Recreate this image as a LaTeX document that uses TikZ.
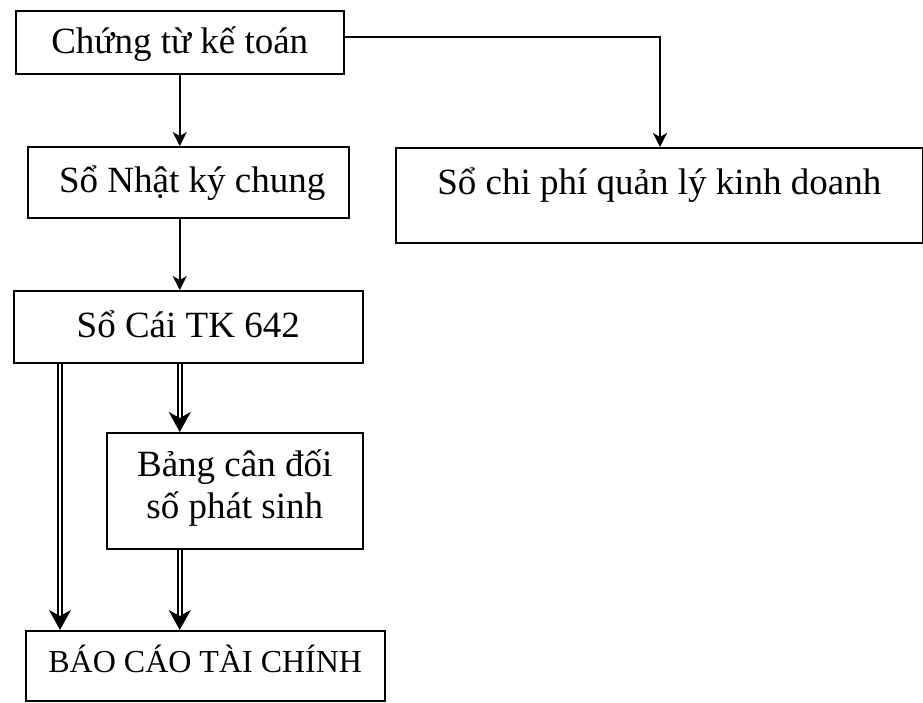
\documentclass[tikz,border=0pt]{standalone}
\usepackage{fontspec}
\setmainfont{Liberation Serif}
\usetikzlibrary{arrows.meta}
\begin{document}
\begin{tikzpicture}[x=1pt,y=-1pt,
  box/.style={draw,line width=1.5pt,rectangle,inner sep=0pt,anchor=north west,font=\fontsize{37}{42}\selectfont},
  arr/.style={line width=1.5pt,-{Stealth[length=14pt,width=14pt,inset=4pt]}},
  dbl/.style={line width=1.5pt,double,double distance=2.5pt,-{Stealth[length=20pt,width=22pt,inset=6pt]}}]
\useasboundingbox (0,0) rectangle (923,702);
\node[box,minimum width=328pt,text height=43pt,text depth=20pt] (ct) at (15,10) {Chứng từ kế toán};
\node[box,minimum width=321pt,text height=46pt,text depth=25pt] (nk) at (27,146) {\hspace{8pt}Sổ Nhật ký chung};
\node[box,minimum width=527pt,text height=47pt,text depth=48pt] (cp) at (395,147) {Sổ chi phí quản lý kinh doanh};
\node[box,minimum width=349pt,text height=47pt,text depth=25pt] (sc) at (13,290) {Sổ Cái TK 642};
\node[box,minimum width=256pt,text height=86pt,text depth=30pt,align=center] (bd) at (106,432) {Bảng cân đối\\số phát sinh};
\node[box,minimum width=359pt,text height=42pt,text depth=28pt,font=\fontsize{32}{36}\selectfont] (bc) at (25,630) {BÁO CÁO TÀI CHÍNH};
\coordinate (turn) at (660,37);
\draw[arr] (ct.east |- turn) -- (turn) -- (turn |- cp.north);
\draw[arr] (ct.south) -- (ct.south |- nk.north);
\draw[arr] (nk.south -| ct.south) -- (ct.south |- sc.north);
\draw[dbl] (60,0 |- sc.south) -- (60,0 |- bc.north);
\draw[dbl] (ct.south |- sc.south) -- (ct.south |- bd.north);
\draw[dbl] (ct.south |- bd.south) -- (ct.south |- bc.north);
\end{tikzpicture}
\end{document}
